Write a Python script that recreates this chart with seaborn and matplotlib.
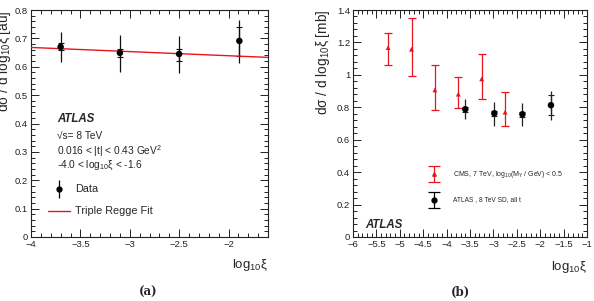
import numpy as np
import pandas as pd
import matplotlib
matplotlib.use("Agg")
import matplotlib.pyplot as plt
import seaborn as sns
from matplotlib.ticker import MultipleLocator, FuncFormatter

# --- panel (a): ATLAS data vs triple Regge fit ---
a_x = [-3.70, -3.10, -2.50, -1.89]
a_y = [0.670, 0.649, 0.645, 0.691]
a_tot_lo = [0.617, 0.582, 0.579, 0.613]
a_tot_hi = [0.723, 0.712, 0.708, 0.765]
a_stat_lo = [0.659, 0.633, 0.622, 0.638]
a_stat_hi = [0.684, 0.662, 0.662, 0.740]
fit_x = [-4.0, -1.6]
fit_y = [0.668, 0.633]

# --- panel (b): CMS 7 TeV vs ATLAS 8 TeV ---
cms_x = [-5.25, -4.75, -4.25, -3.75, -3.25, -2.75]
cms_y = [1.168, 1.158, 0.907, 0.881, 0.975, 0.770]
cms_lo = [1.062, 0.994, 0.784, 0.794, 0.850, 0.685]
cms_hi = [1.257, 1.350, 1.062, 0.986, 1.130, 0.893]
atl_x = [-3.60, -2.98, -2.38, -1.77]
atl_y = [0.788, 0.763, 0.757, 0.813]
atl_lo = [0.727, 0.685, 0.685, 0.722]
atl_hi = [0.850, 0.835, 0.829, 0.903]
atl_stat_lo = [0.772, 0.748, 0.742, 0.752]
atl_stat_hi = [0.804, 0.778, 0.772, 0.874]

sns.set_style("ticks")
plt.rcParams['font.family'] = ['Liberation Sans', 'DejaVu Sans']
plt.rcParams['mathtext.fontset'] = 'custom'
plt.rcParams['mathtext.rm'] = 'Liberation Sans'
plt.rcParams['mathtext.it'] = 'Liberation Sans:italic'

fig = plt.figure(figsize=(5.94, 3.01), dpi=100)
ax1 = fig.add_axes([31/594, 1-237/301, 237/594, 227/301])
ax2 = fig.add_axes([353/594, 1-237/301, 234/594, 227/301])

RED = '#e8141e'
fmt = FuncFormatter(lambda v, p: f"{v:g}".replace('-', '\u2212'))


def root_style(ax, xmaj, xmin, ymaj, ymin):
    ax.xaxis.set_major_locator(MultipleLocator(xmaj))
    ax.xaxis.set_minor_locator(MultipleLocator(xmin))
    ax.yaxis.set_major_locator(MultipleLocator(ymaj))
    ax.yaxis.set_minor_locator(MultipleLocator(ymin))
    ax.xaxis.set_major_formatter(fmt)
    ax.yaxis.set_major_formatter(fmt)
    ax.tick_params(which='both', direction='in', top=True, right=True,
                   labelsize=6.8, colors='#222222', width=0.7, pad=2)
    ax.tick_params(which='major', length=6)
    ax.tick_params(which='minor', length=3)
    for s in ax.spines.values():
        s.set_linewidth(0.8)
        s.set_color('#222222')
        s.set_visible(True)


# panel (a)
df_a = pd.DataFrame({'x': a_x, 'y': a_y})
ax1.errorbar(a_x, a_y,
             yerr=[np.array(a_y) - np.array(a_tot_lo), np.array(a_tot_hi) - np.array(a_y)],
             fmt='none', ecolor='#111111', elinewidth=0.9, capsize=0, zorder=3)
ax1.errorbar(a_x, a_y,
             yerr=[np.array(a_y) - np.array(a_stat_lo), np.array(a_stat_hi) - np.array(a_y)],
             fmt='none', ecolor='#111111', elinewidth=0.9, capsize=2, capthick=0.8, zorder=3)
sns.lineplot(x=fit_x, y=fit_y, ax=ax1, color=RED, linewidth=1.0, zorder=4)
sns.scatterplot(data=df_a, x='x', y='y', ax=ax1, color='black', s=22,
                edgecolor='none', zorder=5)
ax1.set_xlim(-4, -1.6)
ax1.set_ylim(0, 0.8)
ax1.set_xlabel('')
ax1.set_ylabel('')
root_style(ax1, 0.5, 0.1, 0.1, 0.02)

t = ax1.transAxes
ax1.text(26/237, (237-119)/227, 'ATLAS', transform=t, fontsize=8.3,
         fontweight='bold', style='italic', va='center')
ax1.text(26/237, (237-136)/227, '√s= 8 TeV', transform=t,
         fontsize=7.3, va='center')
ax1.text(26/237, (237-151)/227, '0.016 < |t| < 0.43 GeV$^2$', transform=t,
         fontsize=7.3, va='center')
ax1.text(26/237, (237-165)/227, '-4.0 < log$_{10}$ξ < -1.6', transform=t,
         fontsize=7.3, va='center')
# legend entries
ax1.errorbar([28/237], [(237-189)/227], yerr=[[0.04], [0.04]], transform=t,
             fmt='o', color='black', ms=3.5, elinewidth=0.9, capsize=0)
ax1.text(44/237, (237-189)/227, 'Data', transform=t, fontsize=7.8, va='center')
ax1.plot([17/237, 39/237], [(237-211)/227] * 2, transform=t, color=RED, lw=1.0)
ax1.text(44/237, (237-211)/227, 'Triple Regge Fit', transform=t, fontsize=7.8,
         va='center')

# panel (b)
df_cms = pd.DataFrame({'x': cms_x, 'y': cms_y})
df_atl = pd.DataFrame({'x': atl_x, 'y': atl_y})
ax2.errorbar(cms_x, cms_y,
             yerr=[np.array(cms_y) - np.array(cms_lo), np.array(cms_hi) - np.array(cms_y)],
             fmt='none', ecolor=RED, elinewidth=0.9, capsize=2.8, capthick=0.9, zorder=3)
ax2.errorbar(atl_x, atl_y,
             yerr=[np.array(atl_y) - np.array(atl_lo), np.array(atl_hi) - np.array(atl_y)],
             fmt='none', ecolor='#222222', elinewidth=0.9, capsize=0, zorder=3)
ax2.errorbar(atl_x, atl_y,
             yerr=[np.array(atl_y) - np.array(atl_stat_lo), np.array(atl_stat_hi) - np.array(atl_y)],
             fmt='none', ecolor='#222222', elinewidth=0.9, capsize=2, capthick=0.8, zorder=3)
sns.scatterplot(data=df_cms, x='x', y='y', ax=ax2, color=RED, marker='^', s=12,
                edgecolor='none', zorder=5)
sns.scatterplot(data=df_atl, x='x', y='y', ax=ax2, color='black', s=22,
                edgecolor='none', zorder=5)
ax2.set_xlim(-6, -1)
ax2.set_ylim(0, 1.4)
ax2.set_xlabel('')
ax2.set_ylabel('')
root_style(ax2, 0.5, 0.1, 0.2, 0.04)

t2 = ax2.transAxes
ax2.errorbar([81/234], [(237-174)/227], yerr=[[0.036], [0.036]], transform=t2,
             fmt='^', color=RED, ms=2.5, elinewidth=0.9, capsize=4, capthick=0.9)
ax2.errorbar([81/234], [(237-200)/227], yerr=[[0.036], [0.036]], transform=t2,
             fmt='o', color='black', ms=3.5, elinewidth=0.9, capsize=4, capthick=0.9)
ax2.text(100/234, (237-174)/227, 'CMS, 7 TeV, log$_{10}$(M$_{\\rm Y}$ / GeV) < 0.5',
         transform=t2, fontsize=5.0, va='center')
ax2.text(100/234, (237-200)/227, 'ATLAS , 8 TeV SD, all t', transform=t2,
         fontsize=4.8, va='center')
ax2.text(12/234, (237-225)/227, 'ATLAS', transform=t2, fontsize=8.3,
         fontweight='bold', style='italic', va='center')

# axis titles (ROOT style, aligned at the ends)
fig.text(268/594, 1-257/301, 'log$_{10}$ξ', ha='right', va='top', fontsize=9.5)
fig.text(587/594, 1-259/301, 'log$_{10}$ξ', ha='right', va='top', fontsize=9.5)
fig.text(4/594, 1-10/301, 'dσ / d log$_{10}$ξ [au]', rotation=90, ha='center',
         va='top', fontsize=9.8)
fig.text(323/594, 1-10/301, 'dσ / d log$_{10}$ξ [mb]', rotation=90, ha='center',
         va='top', fontsize=9.8)

# sub-captions
fig.text(148/594, 1-292/301, '(a)', ha='center', va='center', fontsize=8.5,
         fontweight='bold', family='DejaVu Serif')
fig.text(460/594, 1-292/301, '(b)', ha='center', va='center', fontsize=8.5,
         fontweight='bold', family='DejaVu Serif')

fig.savefig('out.png', dpi=100)
